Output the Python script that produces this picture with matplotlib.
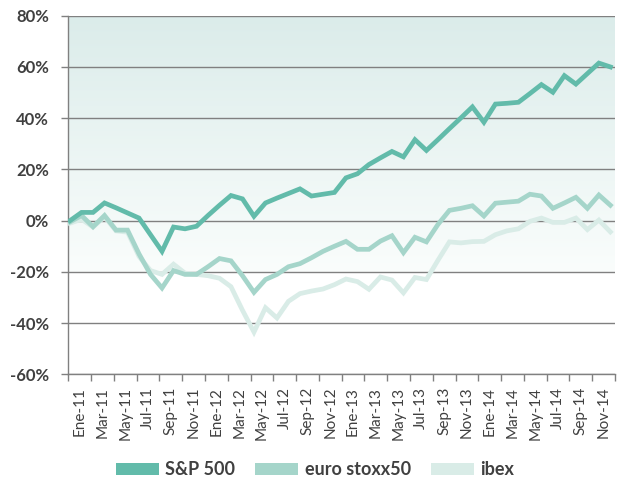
import numpy as np
import matplotlib
matplotlib.use("Agg")
import matplotlib.pyplot as plt
from matplotlib.patches import Patch
from matplotlib.colors import LinearSegmentedColormap

months = ['Ene', 'Feb', 'Mar', 'Abr', 'May', 'Jun', 'Jul', 'Ago', 'Sep', 'Oct', 'Nov', 'Dic']
years = ['11', '12', '13', '14']
dates = [f'{m}-{y}' for y in years for m in months]
tick_labels = dates[::2]

series_names = ['S&P 500', 'euro stoxx50', 'ibex']

sp500 = [0.0, 3.2, 3.2, 6.9, 5.0, 3.0, 1.0, -5.5, -12.0, -2.5, -3.2, -2.2,
         2.0, 6.0, 9.8, 8.5, 1.7, 6.9, 8.8, 10.6, 12.4, 9.6, 10.3, 11.0,
         16.7, 18.3, 21.9, 24.5, 27.0, 24.9, 31.6, 27.4, 31.6, 35.9, 40.1, 44.4,
         38.4, 45.5, 45.8, 46.2, 49.6, 53.1, 50.1, 56.6, 53.3, 57.4, 61.5, 60.0]

stoxx = [-0.5, 2.0, -2.4, 2.0, -3.7, -3.7, -13.0, -21.0, -26.3, -19.5, -21.0, -21.0,
         -18.0, -14.8, -15.7, -21.5, -28.0, -23.0, -21.0, -18.0, -16.8, -14.5, -12.0, -10.0,
         -8.1, -11.2, -11.2, -8.0, -5.9, -12.5, -6.5, -8.3, -1.5, 4.0, 4.8, 5.8,
         1.8, 6.8, 7.2, 7.6, 10.3, 9.6, 4.8, 6.9, 9.1, 4.8, 10.0, 6.0]

ibex = [-1.0, 0.5, -2.5, 1.5, -4.0, -4.5, -14.0, -19.5, -21.0, -17.0, -20.5, -21.0,
        -21.5, -22.5, -25.8, -35.0, -43.5, -34.0, -38.0, -31.5, -28.5, -27.5, -26.7, -25.0,
        -22.8, -23.8, -26.8, -22.0, -23.2, -28.2, -22.2, -23.0, -15.5, -8.3, -8.7, -8.2,
        -8.1, -5.5, -4.0, -3.2, -0.3, 1.0, -0.7, -0.7, 1.0, -3.5, 0.2, -4.4]

colors = ['#62bbaa', '#a5d5ca', '#d9ece7']
text_color = '#404040'
grid_color = '#808080'

fig = plt.figure(figsize=(6.21, 4.92), dpi=100)
ax = fig.add_axes([0.1100, 0.2392, 0.8803, 0.7289])

x = np.arange(len(dates))
xl, xr = -0.15, 47.4
ax.set_xlim(xl, xr)
ax.set_ylim(-60, 80)

# gradient background
cmap = LinearSegmentedColormap.from_list('bg', ['#fafdfc', '#dbecea'])
grad = np.linspace(0, 1, 256).reshape(-1, 1)
ax.imshow(grad, cmap=cmap, origin='lower', aspect='auto',
          extent=[xl, xr, -20, 80], zorder=0)

ax.set_yticks(np.arange(-60, 81, 20))
ax.set_yticklabels([f'{v}%' for v in range(-60, 81, 20)])
ax.yaxis.grid(True, color=grid_color, lw=1.0, zorder=1)
ax.set_axisbelow(True)

for name, data, c in list(zip(series_names, [sp500, stoxx, ibex], colors))[::-1]:
    ax.plot(x, data, color=c, lw=3.4, solid_joinstyle='miter', zorder=3)

edges = np.linspace(xl, xr, 25)
centers = (edges[:-1] + edges[1:]) / 2
ax.set_xticks(centers)
ax.set_xticklabels(tick_labels, rotation=90, fontfamily='Lato', fontsize=11,
                   color=text_color)
ax.set_xticks(edges, minor=True)
ax.tick_params(axis='x', which='major', length=0, pad=9)
ax.tick_params(axis='x', which='minor', length=5, color=grid_color, width=1)
ax.tick_params(axis='y', length=5, color=grid_color, width=1, pad=9)
for lab in ax.get_yticklabels():
    lab.set_fontfamily('Lato')
    lab.set_fontweight('bold')
    lab.set_fontsize(12)
    lab.set_color(text_color)

for s in ['top', 'right']:
    ax.spines[s].set_visible(False)
for s in ['left', 'bottom']:
    ax.spines[s].set_color(grid_color)
    ax.spines[s].set_linewidth(1.0)

handles = [Patch(facecolor=c, edgecolor='none') for c in colors]
leg = fig.legend(handles, series_names, loc='center', bbox_to_anchor=(0.507, 0.045),
                 ncol=3, frameon=False, handlelength=2.4, handleheight=0.67,
                 handletextpad=0.35, columnspacing=1.1, borderpad=0.1,
                 prop={'family': 'Lato', 'weight': 'bold', 'size': 13})
for t in leg.get_texts():
    t.set_color(text_color)

fig.savefig('out.png', dpi=100)
